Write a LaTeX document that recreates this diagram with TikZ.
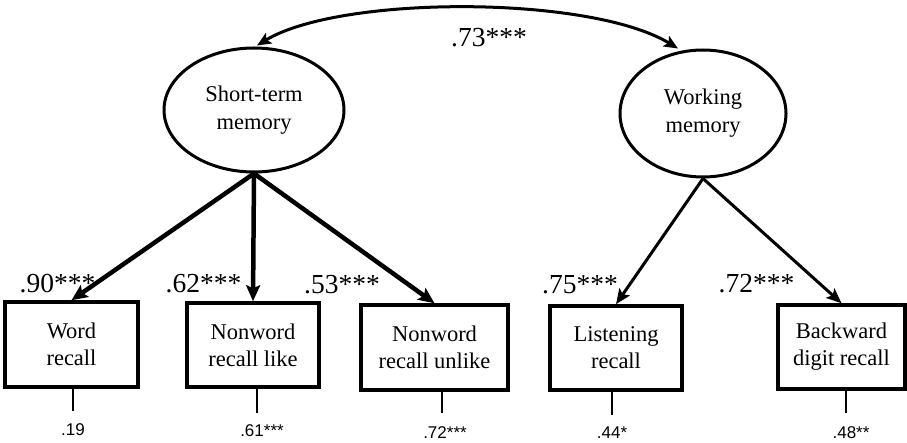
\documentclass[tikz,border=0pt]{standalone}
\usepackage{fontspec}
\setmainfont{Liberation Serif}
\newfontfamily\labelsans{Liberation Sans}
\usetikzlibrary{shapes.geometric,arrows.meta}

\tikzset{
  latent/.style={draw, ellipse, line width=3pt, inner sep=0pt, align=center,
    font=\fontsize{22.5}{28}\selectfont},
  observed/.style={draw, rectangle, line width=3.5pt, inner sep=0pt, align=center,
    font=\fontsize{22.5}{27}\selectfont},
  loading/.style={font=\fontsize{27.5}{30}\selectfont, inner sep=0pt},
  residual/.style={font=\labelsans\fontsize{17}{20}\selectfont, inner sep=0pt},
  heavy/.style={-{Stealth[length=16pt,width=14pt,inset=3pt]}, line width=4.5pt},
  medium/.style={-{Stealth[length=15pt,width=12.5pt,inset=3pt]}, line width=3pt},
  both/.style={{Stealth[length=14pt,width=12pt,inset=3pt]}-{Stealth[length=14pt,width=12pt,inset=3pt]}, line width=3pt},
  errline/.style={line width=1.3pt}
}

\begin{document}
\begin{tikzpicture}[x=1pt,y=-1pt]
\useasboundingbox (0,0) rectangle (907,443);

% latent factors
\node[latent, minimum width=180pt, minimum height=124pt] (stm) at (254,110) {Short-term\\memory};
\node[latent, minimum width=166pt, minimum height=127pt] (wm) at (703,113.5) {Working\\memory};

% indicators
\node[observed, minimum width=133pt, minimum height=85pt] (word)   at (71.5,344.5) {Word\\recall};
\node[observed, minimum width=132pt, minimum height=84pt] (like)   at (253,345)   {Nonword\\recall like};
\node[observed, minimum width=147pt, minimum height=85pt] (unlike) at (434.5,347.5) {Nonword\\recall unlike};
\node[observed, minimum width=132pt, minimum height=84pt] (listen) at (616,348)   {Listening\\recall};
\node[observed, minimum width=127pt, minimum height=84pt] (back)   at (841.5,347) {Backward\\digit recall};

% factor correlation
\path (stm.north) ++(3,-1) coordinate (cl);
\path (wm.north) ++(-25,0) coordinate (cr);
\draw[both] (cl) .. controls (340,-5) and (590,-5) .. (cr);
\node[loading] (r) at (489,38) {.73***};

% factor loadings
\draw[heavy] (stm.south) -- (word.north);
\draw[heavy] (stm.south) -- (like.north);
\draw[heavy] (stm.south) -- (unlike.north);
\draw[medium] (wm.south) -- (listen.north);
\draw[medium] (wm.south) -- (back.north);

\node[loading] (l1) at (57.5,284) {.90***};
\node[loading] (l2) at (203.5,284) {.62***};
\node[loading] (l3) at (342,285) {.53***};
\node[loading] (l4) at (580,285) {.75***};
\node[loading] (l5) at (756.5,284) {.72***};

% residual variances
\coordinate (e1) at (73,411);
\coordinate (e2) at (257,413);
\coordinate (e3) at (442,413);
\coordinate (e4) at (612,415);
\coordinate (e5) at (846,413);
\draw[errline] (word.south -| e1) -- (e1);
\draw[errline] (like.south -| e2) -- (e2);
\draw[errline] (unlike.south -| e3) -- (e3);
\draw[errline] (listen.south -| e4) -- (e4);
\draw[errline] (back.south -| e5) -- (e5);

\node[residual] (v1) at (73,430) {.19};
\node[residual] (v2) at (262,431) {.61***};
\node[residual] (v3) at (445,433) {.72***};
\node[residual] (v4) at (612,433) {.44*};
\node[residual] (v5) at (851,433) {.48**};
\end{tikzpicture}
\end{document}
